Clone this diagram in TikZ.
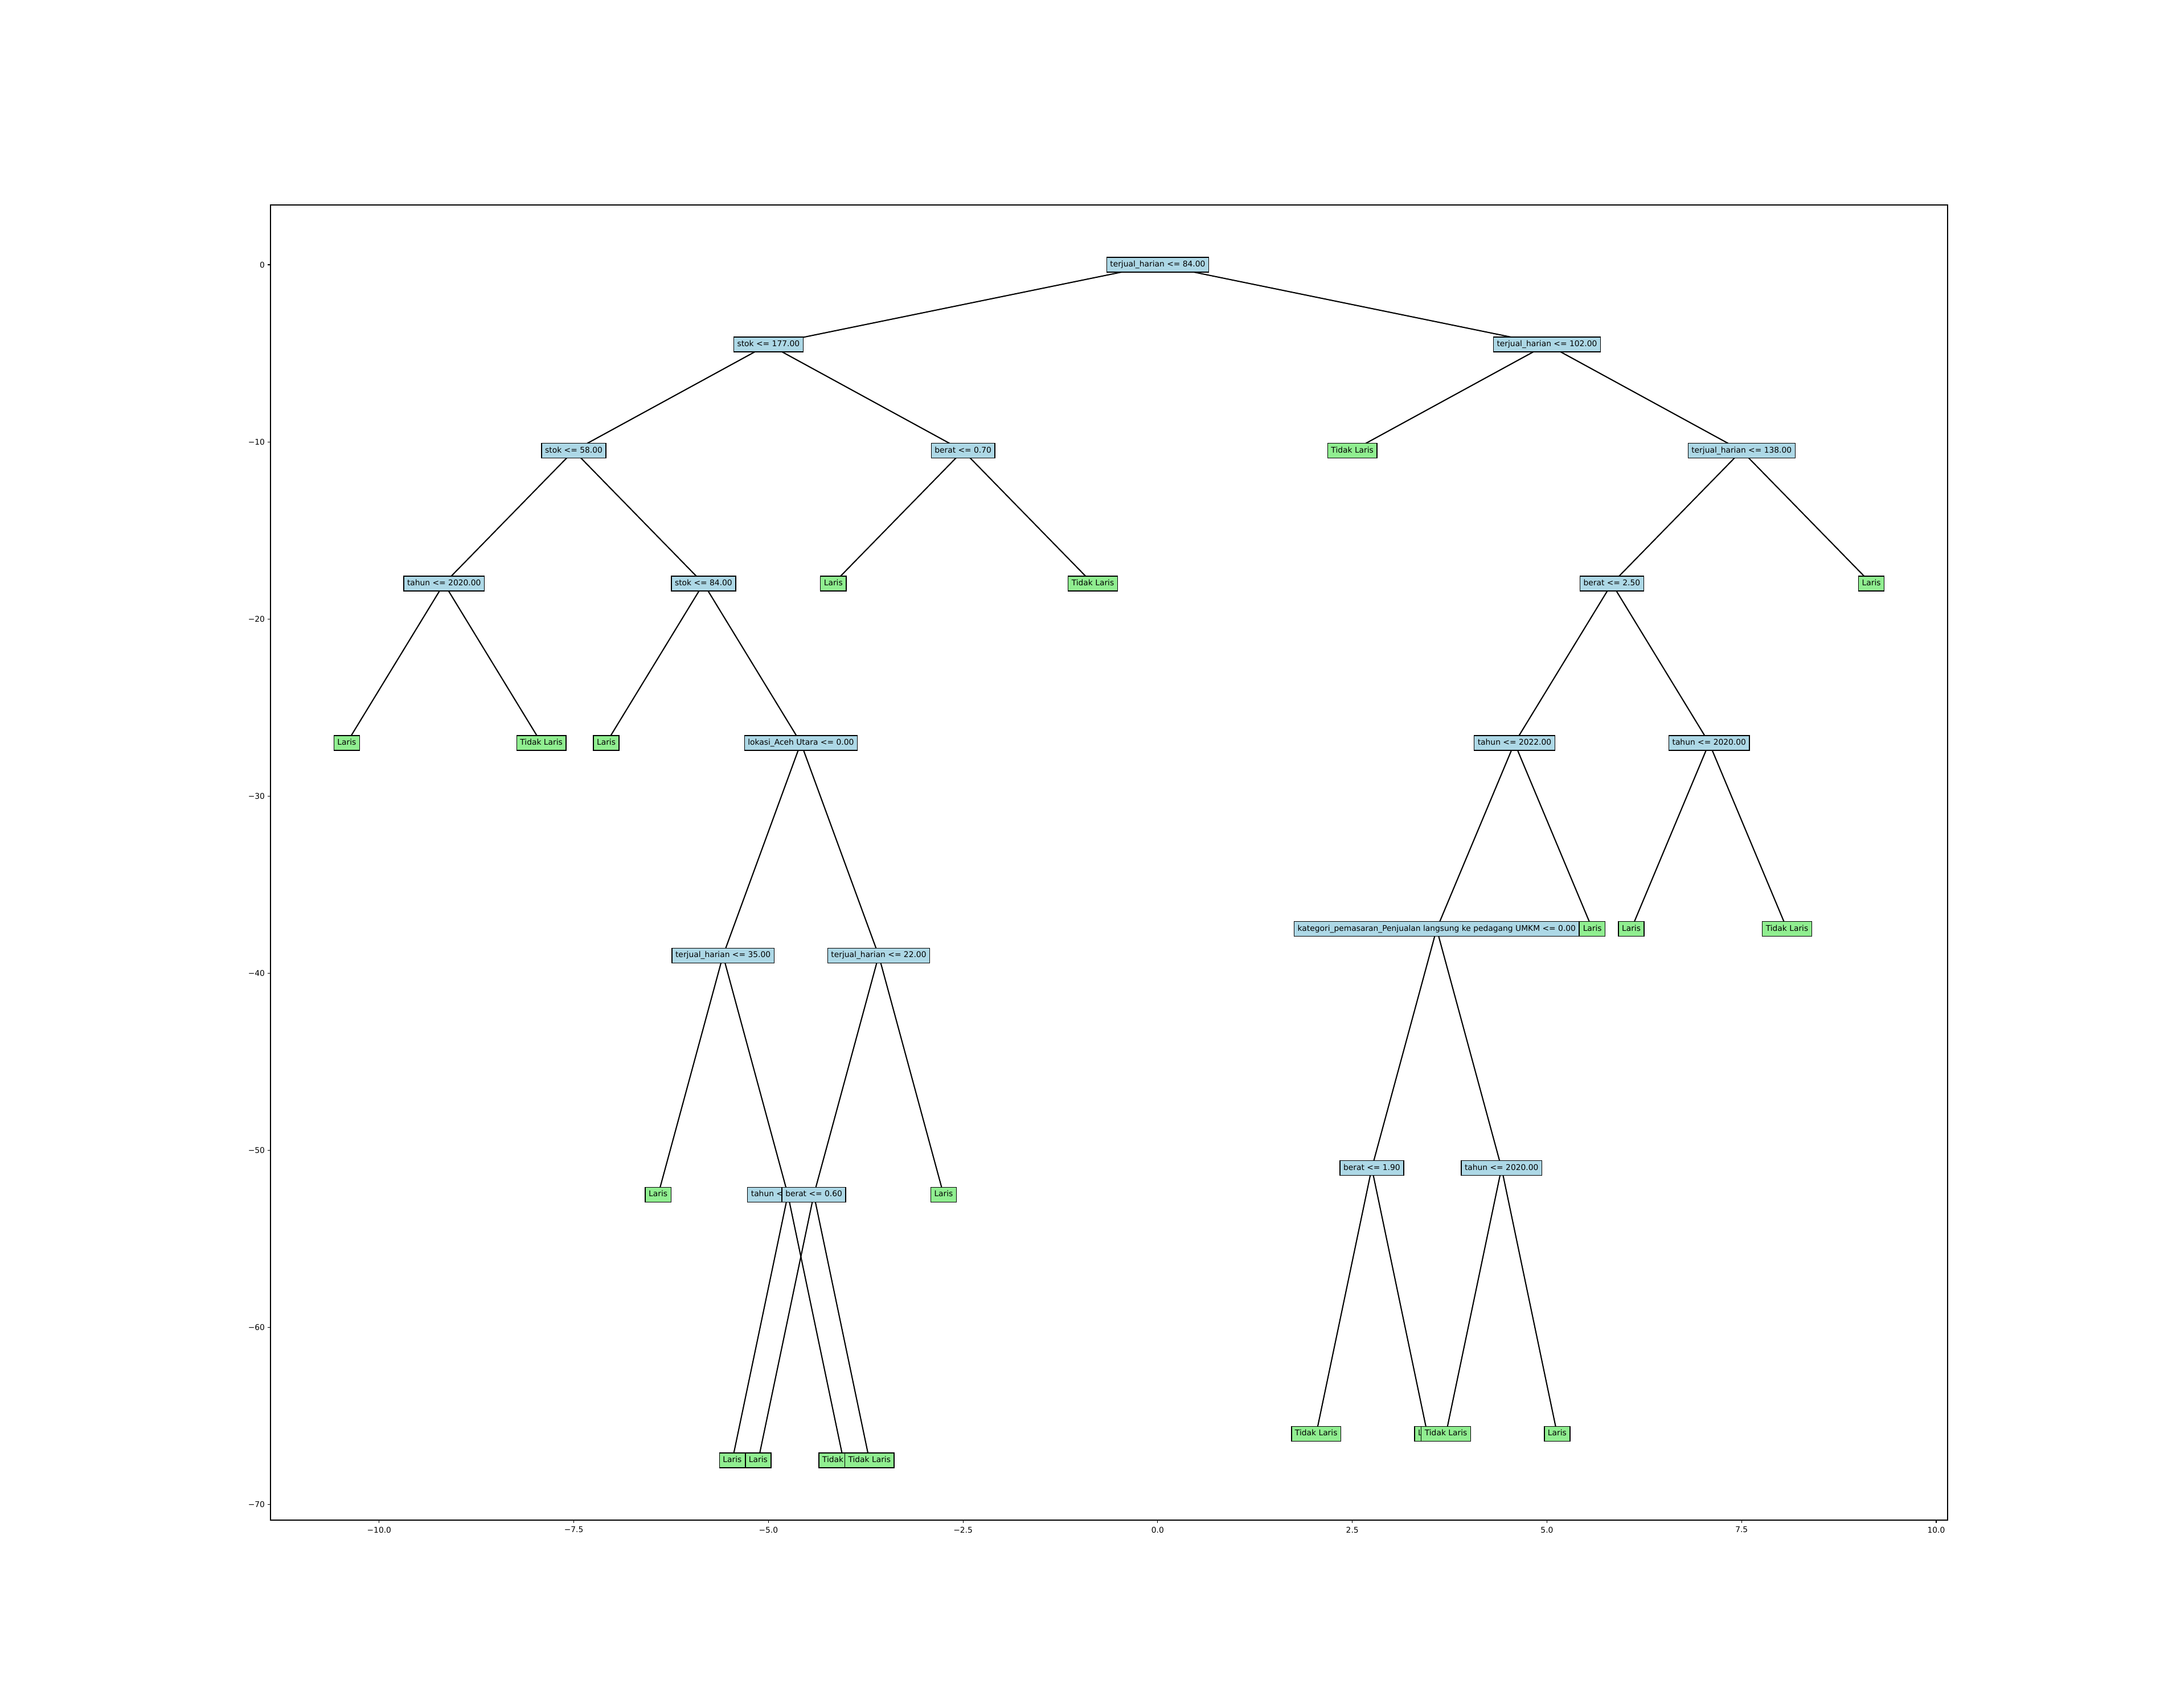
\documentclass[tikz,border=0pt]{standalone}
\usepackage{fontspec}
\setmainfont{DejaVu Sans}
\usetikzlibrary{backgrounds}
\definecolor{nodeblue}{HTML}{ADD8E6}
\definecolor{leafgreen}{HTML}{90EE90}
\tikzset{
  box/.style={draw=black, line width=1pt, inner xsep=4.4pt, inner ysep=4.45pt,
    text height=7.6pt, text depth=2.4pt, font=\fontsize{10}{12}\selectfont},
  dec/.style={box, fill=nodeblue},
  leaf/.style={box, fill=leafgreen},
  branch/.style={line width=1.5pt, black},
  spine/.style={line width=0.8pt, black},
  ticklabel/.style={inner sep=0pt, font=\fontsize{10}{12}\selectfont}
}
\begin{document}
\begin{tikzpicture}
\useasboundingbox (0,0) rectangle (38in,30in);
\begin{scope}[shift={(20.329in,25.35in)}, x=1.3671in, y=0.31111in]
  % axes frame
  \draw[spine] (-11.396,-70.875) rectangle (10.146,3.375);
  % x ticks
  \foreach \v/\t in {-10/−10.0,-7.5/−7.5,-5/−5.0,-2.5/−2.5,0/0.0,2.5/2.5,5/5.0,7.5/7.5,10/10.0}{
    \draw[spine] (\v,-70.875) -- ++(0,-3.5pt);
    \node[ticklabel, anchor=north] at ([yshift=-8.4pt]\v,-70.875) {\t};
  }
  % y ticks
  \foreach \v/\t in {0/0,-10/−10,-20/−20,-30/−30,-40/−40,-50/−50,-60/−60,-70/−70}{
    \draw[spine] (-11.396,\v) -- ++(-3.5pt,0);
    \node[ticklabel, anchor=east] at ([xshift=-7pt]-11.396,\v) {\t};
  }
  % tree nodes, in drawing order
  \node[dec]  (r)       at (0,0)          {terjual\_harian <= 84.00};
  \node[dec]  (a)       at (-5,-4.5)      {stok <= 177.00};
  \node[dec]  (aa)      at (-7.5,-10.5)   {stok <= 58.00};
  \node[dec]  (aaa)     at (-9.1667,-18)  {tahun <= 2020.00};
  \node[leaf] (aaaa)    at (-10.4167,-27) {Laris};
  \node[leaf] (aaab)    at (-7.9167,-27)  {Tidak Laris};
  \node[dec]  (aab)     at (-5.8333,-18)  {stok <= 84.00};
  \node[leaf] (aaba)    at (-7.0833,-27)  {Laris};
  \node[dec]  (aabb)    at (-4.5833,-27)  {lokasi\_Aceh Utara <= 0.00};
  \node[dec]  (aabba)   at (-5.5833,-39)  {terjual\_harian <= 35.00};
  \node[leaf] (aabbaa)  at (-6.4167,-52.5){Laris};
  \node[dec]  (aabbab)  at (-4.75,-52.5)  {tahun <= 2020.00};
  \node[leaf] (aabbaba) at (-5.4643,-67.5){Laris};
  \node[leaf] (aabbabb) at (-4.0357,-67.5){Tidak Laris};
  \node[dec]  (aabbb)   at (-3.5833,-39)  {terjual\_harian <= 22.00};
  \node[dec]  (aabbba)  at (-4.4167,-52.5){berat <= 0.60};
  \node[leaf] (aabbbaa) at (-5.1310,-67.5){Laris};
  \node[leaf] (aabbbab) at (-3.7024,-67.5){Tidak Laris};
  \node[leaf] (aabbbb)  at (-2.75,-52.5)  {Laris};
  \node[dec]  (ab)      at (-2.5,-10.5)   {berat <= 0.70};
  \node[leaf] (aba)     at (-4.1667,-18)  {Laris};
  \node[leaf] (abb)     at (-0.8333,-18)  {Tidak Laris};
  \node[dec]  (b)       at (5,-4.5)       {terjual\_harian <= 102.00};
  \node[leaf] (ba)      at (2.5,-10.5)    {Tidak Laris};
  \node[dec]  (bb)      at (7.5,-10.5)    {terjual\_harian <= 138.00};
  \node[dec]  (bba)     at (5.8333,-18)   {berat <= 2.50};
  \node[dec]  (bbaa)    at (4.5833,-27)   {tahun <= 2022.00};
  \node[dec]  (bbaaa)   at (3.5833,-37.5) {kategori\_pemasaran\_Penjualan langsung ke pedagang UMKM <= 0.00};
  \node[dec]  (bbaaaa)  at (2.75,-51)     {berat <= 1.90};
  \node[leaf] (bbaaaaa) at (2.0357,-66)   {Tidak Laris};
  \node[leaf] (bbaaaab) at (3.4643,-66)   {Laris};
  \node[dec]  (bbaaab)  at (4.4167,-51)   {tahun <= 2020.00};
  \node[leaf] (bbaaaba) at (3.7024,-66)   {Tidak Laris};
  \node[leaf] (bbaaabb) at (5.1310,-66)   {Laris};
  \node[leaf] (bbaab)   at (5.5833,-37.5) {Laris};
  \node[dec]  (bbab)    at (7.0833,-27)   {tahun <= 2020.00};
  \node[leaf] (bbaba)   at (6.0833,-37.5) {Laris};
  \node[leaf] (bbabb)   at (8.0833,-37.5) {Tidak Laris};
  \node[leaf] (bbb)     at (9.1667,-18)   {Laris};
  % branches, beneath the boxes
  \begin{scope}[on background layer]
    \foreach \p/\c in {r/a,r/b,a/aa,a/ab,aa/aaa,aa/aab,aaa/aaaa,aaa/aaab,
        aab/aaba,aab/aabb,aabb/aabba,aabb/aabbb,aabba/aabbaa,aabba/aabbab,
        aabbab/aabbaba,aabbab/aabbabb,aabbb/aabbba,aabbb/aabbbb,
        aabbba/aabbbaa,aabbba/aabbbab,ab/aba,ab/abb,b/ba,b/bb,bb/bba,bb/bbb,
        bba/bbaa,bba/bbab,bbaa/bbaaa,bbaa/bbaab,bbaaa/bbaaaa,bbaaa/bbaaab,
        bbaaaa/bbaaaaa,bbaaaa/bbaaaab,bbaaab/bbaaaba,bbaaab/bbaaabb,
        bbab/bbaba,bbab/bbabb}{
      \draw[branch] (\p.center) -- (\c.center);
    }
  \end{scope}
\end{scope}
\end{tikzpicture}
\end{document}
